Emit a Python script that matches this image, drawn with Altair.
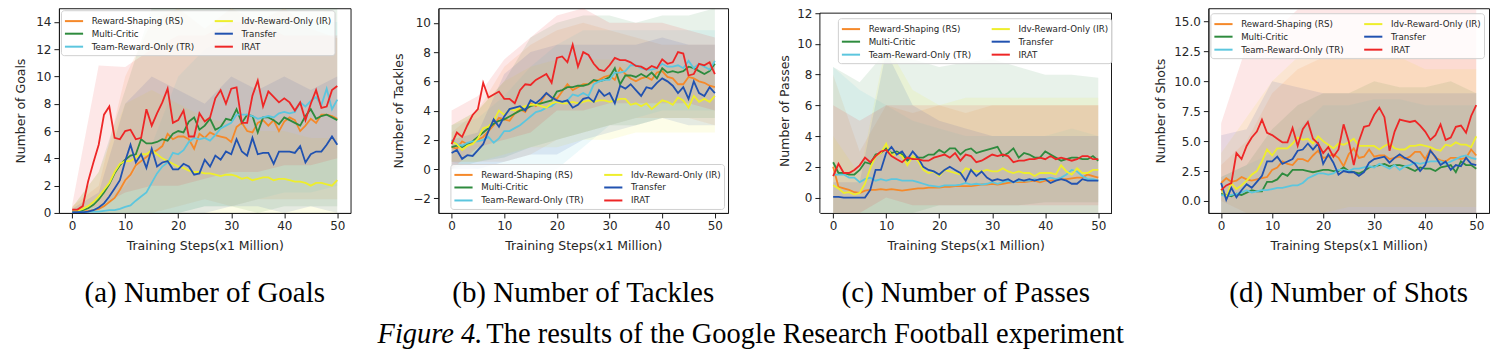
import altair as alt
import pandas as pd

# ---------------- data ----------------
steps = list(range(51))
band_steps = list(range(0, 51, 5))
x_ticks = [0, 10, 20, 30, 40, 50]

# legend is filled column by column: RS, MC, TR | IR, Transfer, IRAT
series_names = ["Reward-Shaping (RS)", "Multi-Critic", "Team-Reward-Only (TR)",
                "Idv-Reward-Only (IR)", "Transfer", "IRAT"]
series_colors = ["#f5892a", "#2e8b3e", "#5cc6de", "#eeee2c", "#2152b0", "#ee2626"]
draw_order = series_names

subcaptions = ["(a) Number of Goals", "(b) Number of Tackles",
               "(c) Number of Passes", "(d) Number of Shots"]
y_titles = ["Number of Goals", "Number of Tackles", "Number of Passes", "Number of Shots"]
x_title = "Training Steps(x1 Million)"
caption_parts = ["Figure 4.", "The results of the Google Research Football experiment"]

# ---- Goals ----
goals_rs = [0.1, 0.1, 0.1, 0.15, 0.2, 0.3, 0.5, 0.8, 1.1, 1.7,
            2.4, 2.8, 3.5, 3.8, 4.1, 4.4, 4.6, 4.9, 5.8, 5.4,
            5.6, 5.6, 5.4, 4.7, 5.8, 5.5, 5.9, 5.7, 5.6, 5.5,
            5.2, 6.3, 6.6, 6.0, 5.9, 6.6, 6.8, 6.4, 6.8, 6.0,
            6.7, 7.0, 6.8, 6.0, 6.4, 6.9, 6.6, 7.2, 7.2, 7.1,
            6.9]
goals_mc = [0.1, 0.1, 0.2, 0.35, 0.6, 1.0, 1.5, 2.1, 2.9, 3.5,
            3.9, 4.2, 4.3, 5.4, 5.1, 5.1, 5.2, 5.4, 5.3, 5.8,
            6.0, 5.9, 6.7, 7.0, 6.1, 6.4, 6.9, 6.1, 6.3, 6.9,
            6.8, 7.6, 6.6, 7.2, 7.1, 5.9, 7.0, 7.0, 6.8, 6.5,
            7.0, 6.8, 6.6, 6.4, 7.1, 7.6, 6.9, 7.1, 7.2, 7.0,
            6.8]
goals_tr = [0.05, 0.05, 0.05, 0.1, 0.1, 0.1, 0.15, 0.2, 0.2, 0.3,
            0.45, 0.55, 0.9, 1.2, 1.5, 2.2, 2.9, 3.4, 3.7, 4.4,
            4.3, 4.6, 5.2, 5.5, 5.4, 5.5, 5.3, 5.7, 6.2, 6.4,
            6.6, 7.2, 7.2, 7.2, 7.1, 6.9, 7.0, 7.1, 7.0, 7.3,
            7.4, 7.3, 7.4, 8.1, 7.8, 8.2, 8.5, 7.9, 9.1, 7.6,
            8.3]
goals_ir = [0.1, 0.15, 0.3, 0.5, 0.8, 1.2, 1.7, 2.2, 3.0, 3.6,
            3.8, 3.8, 4.1, 4.3, 4.3, 4.6, 4.3, 4.0, 3.8, 3.6,
            3.4, 3.3, 3.1, 3.0, 3.0, 2.9, 2.9, 2.8, 2.7, 2.8,
            2.8, 2.7, 2.5, 2.6, 2.4, 2.5, 2.6, 2.6, 2.4, 2.5,
            2.5, 2.4, 2.3, 2.3, 2.2, 2.0, 2.2, 2.2, 2.1, 2.0,
            2.4]
goals_tf = [0.05, 0.05, 0.05, 0.1, 0.2, 0.4, 0.7, 1.2, 1.8, 2.4,
            3.8, 5.0, 3.7, 4.3, 3.3, 4.7, 3.4, 3.7, 3.8, 3.2,
            3.2, 3.6, 3.4, 2.8, 2.9, 3.9, 3.4, 4.2, 3.9, 4.5,
            4.3, 5.4, 4.5, 4.2, 5.5, 4.3, 4.4, 4.4, 3.6, 4.5,
            4.5, 4.5, 4.4, 4.9, 3.7, 4.3, 4.5, 4.5, 5.0, 5.6,
            5.0]
goals_irat = [0.25, 0.25, 0.5, 2.3, 3.7, 5.0, 7.2, 7.8, 5.5, 5.4,
              6.0, 6.1, 5.4, 5.5, 7.6, 6.4, 7.3, 8.1, 9.1, 6.6,
              6.8, 7.5, 5.6, 5.6, 7.3, 6.7, 7.0, 8.4, 9.0, 8.0,
              9.1, 9.2, 6.6, 6.6, 8.6, 9.7, 7.8, 8.9, 8.5, 8.1,
              8.4, 8.1, 7.5, 8.1, 6.8, 8.0, 9.0, 7.7, 7.8, 9.0,
              9.3]
goals_rs_lo = [0, 0, 0, 0, 0.5, 1, 0.5, 1, 1, 1, 1]
goals_rs_hi = [0.5, 2, 10, 14, 15, 13.5, 15, 14, 15, 13.5, 12.8]
goals_mc_lo = [0, 0, 0, 0, 0, 0.5, 0.5, 0, 0.5, 0.5, 0.5]
goals_mc_hi = [0.4, 3, 9, 15, 15, 15, 15, 15, 15, 15, 15]
goals_tr_lo = [0, 0, 0, 0, 0, 0.5, 0.5, 1, 1.5, 1.5, 2]
goals_tr_hi = [0.2, 0.5, 2, 5, 10, 12, 13, 13, 14, 14, 14]
goals_ir_lo = [0, 0, 0, 0, 0, 0, 0, 0, 0, 0, 0]
goals_ir_hi = [0.4, 3, 8, 9, 8, 7, 6.5, 6, 6, 5.5, 5.5]
goals_tf_lo = [0, 0, 0, 0, 0, 0, 0.5, 0.5, 0, 0.5, 0]
goals_tf_hi = [0.3, 1.5, 8, 10, 9, 8, 10, 9, 10, 9, 10]
goals_irat_lo = [0, 0.5, 1.5, 2, 2, 2.5, 3, 3, 3.5, 3.5, 4]
goals_irat_hi = [0.6, 10.8, 10.7, 12, 13, 13, 14, 14, 13, 13, 13]

# ---- Tackles ----
tackles_rs = [1.5, 1.4, 1.9, 1.7, 1.8, 2.0, 2.2, 2.6, 3.0, 3.5,
              3.4, 3.3, 3.8, 4.1, 3.9, 4.5, 4.3, 4.6, 5.2, 4.9,
              4.8, 5.3, 5.8, 5.4, 5.6, 5.8, 5.8, 6.0, 6.1, 6.3,
              6.4, 6.1, 6.9, 6.5, 6.2, 6.0, 6.2, 6.3, 6.1, 6.6,
              6.7, 6.3, 6.2, 5.8, 5.8, 6.3, 6.2, 6.0, 5.9, 5.7,
              5.6]
tackles_mc = [1.5, 1.6, 1.5, 1.7, 1.9, 2.2, 2.5, 2.8, 3.1, 3.3,
              3.4, 3.6, 3.8, 4.0, 4.1, 4.3, 4.4, 4.5, 4.6, 4.7,
              5.3, 5.4, 5.6, 5.6, 5.7, 5.7, 5.8, 6.1, 6.0, 6.1,
              6.3, 6.9, 5.8, 6.4, 6.4, 6.3, 6.5, 6.3, 6.6, 6.2,
              6.9, 6.6, 6.7, 6.6, 6.7, 7.0, 6.9, 6.7, 6.5, 6.7,
              7.2]
tackles_tr = [2.0, 1.7, 1.6, 1.8, 1.9, 1.9, 2.0, 2.2, 1.8, 2.1,
              2.6, 2.6, 2.8, 3.0, 3.3, 3.6, 3.9, 4.0, 4.2, 4.3,
              4.6, 4.6, 4.7, 5.1, 5.0, 5.2, 5.0, 5.8, 6.0, 6.1,
              6.1, 6.6, 6.6, 6.7, 7.1, 7.1, 6.9, 6.8, 6.8, 6.9,
              7.2, 7.0, 7.0, 7.1, 6.9, 7.4, 6.9, 7.2, 7.0, 6.8,
              7.4]
tackles_ir = [1.9, 1.7, 1.3, 1.6, 1.7, 2.1, 2.8, 2.9, 3.3, 4.0,
              3.7, 4.1, 4.0, 4.2, 4.3, 4.4, 4.4, 4.3, 4.2, 4.5,
              4.6, 4.5, 4.5, 4.6, 4.5, 4.6, 4.7, 4.6, 4.7, 4.7,
              4.6, 4.7, 4.8, 4.8, 4.4, 4.5, 4.3, 4.5, 4.1, 4.4,
              4.7, 4.6, 4.4, 4.9, 4.7, 4.2, 5.0, 4.6, 4.8, 4.6,
              5.0]
tackles_tf = [1.1, 1.3, 0.7, 0.95, 0.9, 1.3, 1.7, 2.6, 3.4, 2.9,
              3.6, 4.1, 4.2, 4.3, 4.0, 4.7, 4.5, 4.8, 5.2, 4.9,
              4.7, 4.6, 4.7, 4.2, 4.4, 4.8, 4.9, 4.6, 5.4, 5.0,
              5.2, 4.5, 5.7, 5.5, 5.8, 5.4, 5.0, 5.6, 5.5, 5.9,
              6.2, 6.0, 5.7, 5.2, 5.6, 4.8, 6.0, 5.2, 5.0, 5.6,
              5.2]
tackles_irat = [1.7, 2.5, 2.2, 3.0, 3.7, 4.1, 5.9, 4.9, 5.1, 5.3,
                4.8, 4.8, 4.5, 5.4, 5.8, 5.75, 6.1, 6.3, 6.5, 5.9,
                7.6, 7.7, 7.3, 8.5, 7.0, 8.0, 7.8, 7.2, 6.8, 6.7,
                7.1, 7.6, 7.45, 7.45, 7.3, 7.05, 7.0, 6.8, 7.05, 6.9,
                7.5, 7.2, 7.3, 8.0, 7.9, 6.4, 6.5, 7.2, 7.1, 7.3,
                6.5]
tackles_rs_lo = [0.5, 0.5, 0.5, 1, 2, 2.5, 3, 3.5, 3.5, 3.5, 3]
tackles_rs_hi = [2.5, 4, 7, 8.5, 9.5, 10, 9.5, 9, 8.5, 8.5, 8.5]
tackles_mc_lo = [0, 0.5, 0.8, 1.5, 2, 2.5, 3, 3, 3.5, 3.5, 3.5]
tackles_mc_hi = [3, 4, 6, 9, 10, 10.5, 10.5, 10, 10.5, 10.5, 11]
tackles_tr_lo = [0.5, 0, -0.5, -0.5, 0, 1.5, 3, 3.5, 4, 4, 4]
tackles_tr_hi = [3, 3.5, 5, 7, 8.5, 9.5, 9.5, 9.5, 9.5, 9.5, 9.5]
tackles_ir_lo = [0.5, 0.5, 1, 1.5, 1.5, 2, 2, 2.5, 2.5, 2.5, 2.5]
tackles_ir_hi = [3, 4, 6, 7, 7.5, 7.5, 7.5, 7, 7, 7, 7.5]
tackles_tf_lo = [0, 0, 0.5, 1, 1, 2, 2.5, 3, 3.5, 3, 3]
tackles_tf_hi = [2, 2.5, 6.5, 8, 8.5, 8.5, 8.5, 8.5, 9, 8.5, 8.5]
tackles_irat_lo = [0, 1.5, 2, 2.5, 4, 4, 4.5, 4.5, 4.5, 4.5, 4]
tackles_irat_hi = [4, 5, 7.5, 9, 10.5, 11, 10, 10, 10, 9.5, 9]

# ---- Passes ----
passes_rs = [2.0, 0.7, 0.6, 0.5, 0.35, 0.3, 0.45, 0.5, 0.5, 0.55,
             0.5, 0.55, 0.5, 0.45, 0.5, 0.55, 0.6, 0.6, 0.65, 0.65,
             0.65, 0.7, 0.7, 0.75, 0.75, 0.75, 0.75, 0.8, 0.85, 0.85,
             0.9, 0.85, 0.9, 0.95, 1.0, 1.0, 1.0, 1.05, 1.1, 1.0,
             1.1, 1.1, 1.15, 1.2, 1.2, 1.25, 1.3, 1.3, 1.5, 1.4,
             1.3]
passes_mc = [2.3, 1.6, 1.6, 1.5, 1.5, 1.8, 2.3, 2.2, 2.8, 2.9,
             3.2, 2.9, 3.0, 2.8, 2.4, 2.6, 2.6, 2.6, 2.8, 2.8,
             3.1, 2.9, 3.2, 3.2, 2.8, 3.1, 3.2, 2.9, 3.0, 3.1,
             3.2, 3.3, 2.7, 2.9, 3.2, 2.6, 2.9, 2.8, 2.6, 2.6,
             3.0, 2.8, 2.6, 2.4, 2.5, 2.6, 2.6, 2.5, 2.5, 2.7,
             2.4]
passes_tr = [1.5, 1.5, 1.5, 1.3, 1.3, 1.0, 1.2, 1.3, 1.1, 1.2,
             1.1, 1.2, 1.2, 1.1, 1.1, 1.1, 1.0, 0.9, 0.8, 0.75,
             0.7, 0.8, 0.8, 0.8, 0.85, 0.95, 0.85, 0.9, 0.85, 0.9,
             1.0, 0.9, 1.0, 1.1, 1.0, 1.1, 1.1, 1.1, 1.2, 1.1,
             1.2, 1.3, 1.2, 1.3, 1.5, 1.8, 1.7, 1.4, 1.2, 1.2,
             1.1]
passes_ir = [0.8, 0.6, 0.3, 0.35, 0.2, 0.3, 0.9, 1.9, 2.7, 2.9,
             3.5, 2.7, 2.9, 2.7, 2.1, 2.7, 2.4, 1.8, 1.6, 1.7,
             1.4, 1.8, 1.7, 1.6, 1.5, 1.9, 1.8, 1.7, 1.7, 1.8,
             1.7, 1.7, 1.9, 1.7, 1.6, 1.7, 1.6, 1.6, 1.4, 1.6,
             1.6, 1.6, 1.5, 2.1, 1.7, 1.5, 1.9, 1.6, 1.6, 1.8,
             1.8]
passes_tf = [0.05, 0.05, 0.0, 0.0, 0.0, 0.0, 0.0, 0.5, 1.8, 1.8,
             2.9, 3.3, 2.8, 3.0, 2.5, 3.0, 2.6, 2.0, 1.8, 1.7,
             1.5, 1.8, 2.0, 1.8, 1.6, 1.1, 1.8, 1.4, 1.7, 1.3,
             1.1, 1.2, 1.1, 1.2, 1.0, 1.2, 1.1, 1.2, 1.1, 1.2,
             1.2, 0.95, 1.1, 1.2, 1.1, 0.9, 0.9, 1.2, 1.1, 1.1,
             1.1]
passes_irat = [1.4, 2.2, 1.6, 1.6, 1.8, 2.1, 2.6, 2.3, 2.7, 3.0,
               3.1, 2.7, 2.5, 2.3, 2.6, 2.5, 2.5, 2.4, 2.4, 2.6,
               2.7, 2.8, 2.6, 2.9, 2.4, 2.8, 2.7, 2.3, 2.4, 2.6,
               2.8, 2.7, 2.8, 2.7, 2.3, 2.4, 2.4, 2.5, 2.5, 2.6,
               2.5, 2.7, 2.5, 2.6, 2.5, 2.4, 2.5, 2.7, 2.7, 2.5,
               2.5]
passes_rs_lo = [-1, -1, -1, -1, -1, -1, -1, -1, -1, -1, -1]
passes_rs_hi = [8, 3, 6, 5.5, 6, 5.5, 6, 6, 6, 6, 6]
passes_mc_lo = [-1, -1, -1, -1, -0.5, -0.5, -0.5, -0.5, -0.3, -0.3, -0.3]
passes_mc_hi = [8.5, 7.5, 9.5, 9, 8.5, 8.8, 9, 8.5, 8, 8, 7.8]
passes_tr_lo = [-1, -1, -1, -1, -1, -1, -1, -1, -1, -1, -1]
passes_tr_hi = [8.5, 7, 6, 5, 4.5, 4, 4, 4, 4, 4.5, 4]
passes_ir_lo = [-1, -1, -1, -1, -1, -1, -1, -1, -1, -1, -1]
passes_ir_hi = [4, 1.5, 10, 7, 6, 6.5, 6.5, 6.5, 6.5, 6.5, 6.5]
passes_tf_lo = [-1, -1, -1, -1, -1, -1, -1, -1, -1, -1, -1]
passes_tf_hi = [1, 1, 9.5, 6, 5, 4.5, 4, 4, 4, 4, 4]
passes_irat_lo = [-1, -1, 0, -0.5, -0.5, -0.5, -0.5, -0.5, -0.5, -0.5, -0.5]
passes_irat_hi = [6, 5, 6, 6, 6, 6, 6, 6, 6, 6, 6]

# ---- Shots ----
shots_rs = [1.5, 1.9, 1.6, 1.7, 2.0, 1.8, 1.7, 1.8, 1.9, 2.0,
            2.6, 2.8, 3.3, 3.1, 3.0, 3.5, 3.5, 3.3, 3.8, 4.2,
            3.6, 3.7, 3.9, 3.6, 2.9, 3.9, 4.4, 3.6, 3.7, 4.3,
            3.7, 3.8, 3.8, 3.5, 3.6, 3.7, 3.5, 3.7, 4.1, 4.1,
            3.5, 4.3, 3.6, 3.4, 3.3, 3.6, 3.6, 3.5, 3.6, 4.3,
            3.8]
shots_mc = [0.6, 0.5, 0.4, 0.6, 0.5, 0.7, 0.9, 0.8, 0.8, 1.6,
            1.6, 1.8, 2.3, 2.1, 2.6, 2.6, 2.6, 2.5, 2.4, 2.5,
            2.6, 2.6, 2.5, 2.5, 2.8, 2.5, 2.4, 2.3, 2.5, 2.8,
            2.9, 3.0, 3.1, 2.9, 3.0, 3.0, 2.9, 2.7, 2.5, 2.8,
            2.7, 2.7, 2.5, 2.8, 2.9, 3.0, 2.4, 3.3, 3.0, 3.0,
            2.7]
shots_tr = [0.5, 0.4, 0.5, 0.6, 0.7, 0.9, 0.7, 0.8, 0.9, 0.9,
            1.0, 1.1, 1.1, 1.2, 1.3, 1.3, 1.5, 1.9, 2.1, 2.3,
            2.3, 2.2, 2.3, 2.6, 2.6, 2.5, 2.7, 2.7, 2.8, 2.9,
            2.8, 3.1, 2.9, 2.7, 3.0, 2.6, 2.9, 3.0, 3.2, 3.1,
            3.2, 3.3, 3.3, 3.3, 3.1, 3.3, 3.5, 3.7, 3.8, 3.6,
            3.5]
shots_ir = [1.0, 0.3, 1.5, 1.0, 1.3, 1.7, 2.2, 2.5, 3.3, 4.3,
            3.8, 4.4, 4.4, 4.4, 4.8, 5.3, 5.1, 5.2, 4.8, 5.4,
            5.0, 4.7, 4.4, 4.8, 4.7, 4.9, 5.2, 4.6, 4.6, 4.6,
            4.6, 4.3, 4.6, 4.8, 4.4, 4.3, 4.3, 4.6, 4.6, 4.7,
            4.6, 4.5, 4.3, 4.2, 4.7, 4.6, 4.9, 4.7, 4.7, 4.5,
            5.4]
shots_tf = [1.5, 0.1, 1.1, 0.3, 0.9, 1.4, 1.1, 1.6, 2.1, 3.3,
            3.3, 3.7, 3.1, 3.3, 3.5, 4.2, 4.3, 4.8, 4.3, 4.8,
            3.1, 3.9, 3.2, 2.2, 2.5, 2.4, 2.4, 2.1, 2.4, 3.2,
            3.5, 3.6, 3.7, 3.2, 3.6, 3.9, 3.6, 3.4, 3.1, 2.5,
            3.0, 4.2, 3.7, 3.0, 3.3, 2.6, 3.0, 2.9, 3.6, 3.1,
            3.0]
shots_irat = [0.9, 1.3, 1.5, 4.0, 3.5, 4.6, 5.3, 5.8, 6.8, 5.7,
              5.5, 5.2, 4.9, 4.9, 6.1, 4.6, 6.0, 6.6, 5.2, 4.8,
              4.0, 4.5, 3.7, 4.3, 6.4, 5.0, 3.0, 5.0, 6.2, 6.3,
              7.2, 7.8, 7.0, 4.2, 5.8, 6.8, 6.7, 6.6, 6.7, 6.3,
              5.8, 5.1, 5.5, 6.4, 5.1, 5.3, 6.2, 6.3, 5.7, 7.1,
              8.0]
shots_rs_lo = [0, -1, -1, -1, -1, -1, -1, -1, -1, -1, -1]
shots_rs_hi = [3, 5, 9, 11, 12, 12, 12, 12, 12, 12, 12]
shots_mc_lo = [-1, -1, -1, -1, -1, -1, -1, -1, -1, -1, -1]
shots_mc_hi = [2, 3, 6, 8, 9, 9, 10, 9.5, 9.5, 10, 9]
shots_tr_lo = [-1, -1, -1, -1, -1, -1, -1, -1, -1, -1, -1]
shots_tr_hi = [2, 3, 4, 6, 8, 8, 8.5, 8.5, 8, 8, 8]
shots_ir_lo = [-1, -1, -1, -1, -1, -0.5, -0.5, -0.5, -0.5, -0.5, -0.5]
shots_ir_hi = [4, 7, 10, 12, 12, 12, 12, 12, 11, 11, 11]
shots_tf_lo = [-1, -1, -1, -1, -1, -1, -1, -1, -1, -1, -1]
shots_tf_hi = [5.5, 6, 10, 9.5, 9, 9, 9, 9, 9, 9, 9]
shots_irat_lo = [-1, -1, -1, -1, -1, -1, -1, -1, -1, -1, -1]
shots_irat_hi = [6.5, 13, 14, 16, 16, 16, 16, 16, 16, 16, 16]

# ---------------- styling ----------------
FONT = "DejaVu Sans"
SERIF = "Liberation Serif"
INK = "#262626"
FRAME = "#1a1a1a"
X_DOMAIN = [-2.5, 52.5]
COLOR_OF = dict(zip(series_names, series_colors))
RESOLVE = dict(x="independent", y="independent", color="independent")


def make_panel(lines, bands, ydom, yvals, yfmt, ytitle, caption, width, height,
               legend_kw, title_pad, frame_top=None):
    ldf = pd.DataFrame([
        {"step": s, "value": v, "series": n}
        for n in draw_order for s, v in zip(steps, lines[n])
    ])
    xs = alt.Scale(domain=X_DOMAIN, nice=False, zero=False)
    ys = alt.Scale(domain=ydom, nice=False, zero=False)
    xax = alt.Axis(values=x_ticks, title=x_title, format="d")
    yax = alt.Axis(values=yvals, title=ytitle, format=yfmt, titlePadding=title_pad,
                   domain=frame_top is None)

    layers = []
    for n in draw_order:
        bdf = pd.DataFrame({"step": band_steps, "lo": bands[n][0], "hi": bands[n][1]})
        layers.append(
            alt.Chart(bdf).mark_area(color=COLOR_OF[n], opacity=0.11, clip=True).encode(
                x=alt.X("step:Q", scale=xs, axis=xax),
                y=alt.Y("lo:Q", scale=ys, axis=yax),
                y2="hi:Q",
            )
        )
    line = alt.Chart(ldf).mark_line(strokeWidth=1.8, clip=True).encode(
        x=alt.X("step:Q", scale=xs, axis=xax),
        y=alt.Y("value:Q", scale=ys, axis=yax),
        color=alt.Color(
            "series:N", scale=alt.Scale(domain=series_names, range=series_colors),
            legend=alt.Legend(
                columns=2, symbolType="M-1,0H1.8", symbolStrokeWidth=2,
                symbolSize=169, labelFont=FONT, labelFontSize=8.7, labelColor=INK,
                fillColor="rgba(255,255,255,0.8)", strokeColor="#d0d0d0",
                cornerRadius=3, padding=3, rowPadding=0, columnPadding=16,
                labelOffset=12.8, **legend_kw),
            title=None,
        ),
    )
    layers.append(line)
    view = None
    if frame_top is not None:
        fdf = pd.DataFrame({
            "x": [X_DOMAIN[0], X_DOMAIN[0], X_DOMAIN[1]],
            "x2": [X_DOMAIN[1], X_DOMAIN[0], X_DOMAIN[1]],
            "y": [frame_top, ydom[0], ydom[0]],
            "y2": [frame_top, frame_top, frame_top],
        })
        frame = alt.Chart(fdf).mark_rule(color=FRAME, strokeWidth=1).encode(
            x=alt.X("x:Q", scale=xs, axis=xax), x2="x2:Q",
            y=alt.Y("y:Q", scale=ys, axis=yax), y2="y2:Q",
        )
        layers.append(frame)
        view = alt.ViewBackground(stroke=None)
    props = dict(
        width=width, height=height,
        title=alt.TitleParams(caption, orient="bottom", anchor="middle",
                              font=SERIF, fontSize=29, fontWeight="normal",
                              color="black", offset=27, baseline="top"),
    )
    if view is not None:
        props["view"] = view
    return alt.layer(*layers).properties(**props)


def pack(rs, mc, tr, ir, tf, irat):
    return {"Reward-Shaping (RS)": rs, "Multi-Critic": mc, "Team-Reward-Only (TR)": tr,
            "Idv-Reward-Only (IR)": ir, "Transfer": tf, "IRAT": irat}


p1 = make_panel(
    pack(goals_rs, goals_mc, goals_tr, goals_ir, goals_tf, goals_irat),
    pack((goals_rs_lo, goals_rs_hi), (goals_mc_lo, goals_mc_hi), (goals_tr_lo, goals_tr_hi),
         (goals_ir_lo, goals_ir_hi), (goals_tf_lo, goals_tf_hi), (goals_irat_lo, goals_irat_hi)),
    [0, 15], [0, 2, 4, 6, 8, 10, 12, 14], "d", y_titles[0], subcaptions[0], 292, 205,
    dict(orient="top-left", offset=2), title_pad=8,
)
p2 = make_panel(
    pack(tackles_rs, tackles_mc, tackles_tr, tackles_ir, tackles_tf, tackles_irat),
    pack((tackles_rs_lo, tackles_rs_hi), (tackles_mc_lo, tackles_mc_hi), (tackles_tr_lo, tackles_tr_hi),
         (tackles_ir_lo, tackles_ir_hi), (tackles_tf_lo, tackles_tf_hi), (tackles_irat_lo, tackles_irat_hi)),
    [-3, 11], [-2, 0, 2, 4, 6, 8, 10], "d", y_titles[1], subcaptions[1], 290, 205,
    dict(orient="bottom-right", offset=4), title_pad=7,
)
p3 = make_panel(
    pack(passes_rs, passes_mc, passes_tr, passes_ir, passes_tf, passes_irat),
    pack((passes_rs_lo, passes_rs_hi), (passes_mc_lo, passes_mc_hi), (passes_tr_lo, passes_tr_hi),
         (passes_ir_lo, passes_ir_hi), (passes_tf_lo, passes_tf_hi), (passes_irat_lo, passes_irat_hi)),
    [-1, 12.32], [0, 2, 4, 6, 8, 10, 12], "d", y_titles[2], subcaptions[2], 292, 205,
    dict(orient="none", legendX=18, legendY=10), title_pad=5, frame_top=12,
)
p4 = make_panel(
    pack(shots_rs, shots_mc, shots_tr, shots_ir, shots_tf, shots_irat),
    pack((shots_rs_lo, shots_rs_hi), (shots_mc_lo, shots_mc_hi), (shots_tr_lo, shots_tr_hi),
         (shots_ir_lo, shots_ir_hi), (shots_tf_lo, shots_tf_hi), (shots_irat_lo, shots_irat_hi)),
    [-1, 16.1], [0, 2.5, 5, 7.5, 10, 12.5, 15], ".1f", y_titles[3], subcaptions[3], 281, 205,
    dict(orient="top-right", offset=5), title_pad=6,
)

left = alt.hconcat(p1, p2, spacing=40).resolve_scale(**RESOLVE).resolve_legend(color="independent")
right = alt.hconcat(p3, p4, spacing=41).resolve_scale(**RESOLVE).resolve_legend(color="independent")
panels = alt.hconcat(left, right, spacing=49).resolve_scale(**RESOLVE).resolve_legend(color="independent")

cap_df1 = pd.DataFrame({"t": [caption_parts[0]]})
cap_df2 = pd.DataFrame({"t": [caption_parts[1]]})
cap1 = alt.Chart(cap_df1).mark_text(font=SERIF, fontSize=28.5, fontStyle="italic",
                                    align="left", baseline="alphabetic", color="black").encode(
    text="t:N", x=alt.value(319), y=alt.value(34))
cap2 = alt.Chart(cap_df2).mark_text(font=SERIF, fontSize=28.5, align="left",
                                    baseline="alphabetic", color="black").encode(
    text="t:N", x=alt.value(428), y=alt.value(34))
caption = alt.layer(cap1, cap2).properties(width=1300, height=39,
                                           view=alt.ViewBackground(stroke=None))

chart = alt.vconcat(panels, caption, spacing=0).properties(
    padding={"left": 6, "top": -2, "right": 2, "bottom": 0}
).configure_axis(
    labelFont=FONT, labelFontSize=12, labelColor=INK, titleFont=FONT, titleFontSize=12.5,
    titleFontWeight="normal", titleColor=INK, tickColor=FRAME, domainColor=FRAME,
    tickSize=5, labelPadding=3, titlePadding=8, grid=False, labelFlush=False,
    labelOverlap=False, domainWidth=1, tickWidth=1,
).configure_view(stroke=FRAME, strokeWidth=1)

chart.save("out.html", embed_options={"renderer": "svg", "actions": False})
